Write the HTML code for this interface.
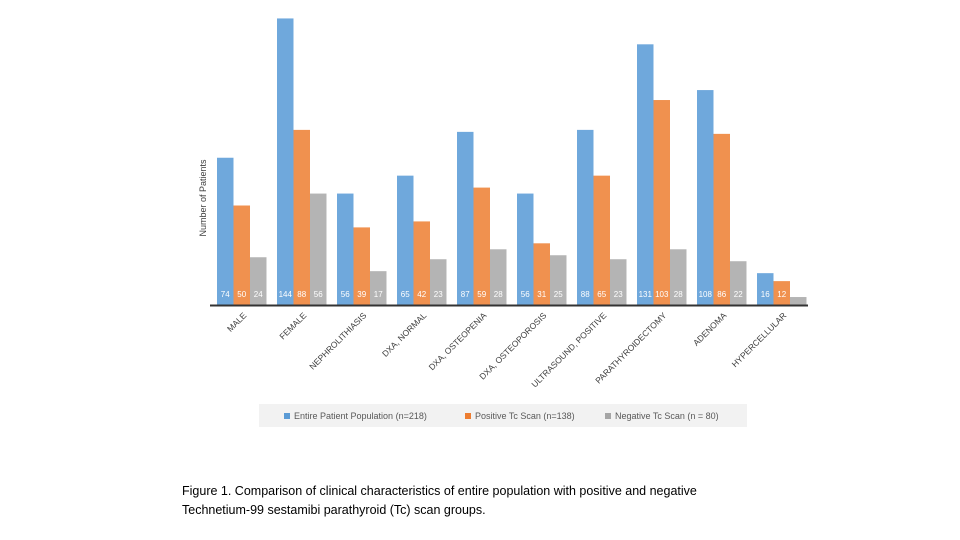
<!DOCTYPE html>
<html><head><meta charset="utf-8"><style>
body{margin:0;background:#fff;font-family:"Liberation Sans",sans-serif;}
</style></head><body>
<svg width="960" height="540" style="display:block">
<g id="plot"></g>
<text transform="translate(206,198) rotate(-90)" text-anchor="middle" font-size="9" fill="#404040">Number of Patients</text>
<rect x="259" y="404" width="488" height="23" fill="#f2f2f2"/>
<g><rect x="284" y="413" width="6" height="6" fill="#5b9bd5"/><text x="294" y="419" font-size="9" fill="#595959">Entire Patient Population (n=218)</text></g>
<g><rect x="465" y="413" width="6" height="6" fill="#ed7d31"/><text x="475" y="419" font-size="9" fill="#595959">Positive Tc Scan (n=138)</text></g>
<g><rect x="605" y="413" width="6" height="6" fill="#a5a5a5"/><text x="615" y="419" font-size="9" fill="#595959">Negative Tc Scan (n = 80)</text></g>
<text x="182" y="495" font-size="12.5" fill="#000">Figure 1. Comparison of clinical characteristics of entire population with positive and negative</text>
<text x="182" y="514" font-size="12.5" fill="#000">Technetium-99 sestamibi parathyroid (Tc) scan groups.</text>
</svg>
<script>
const categories=["MALE","FEMALE","NEPHROLITHIASIS","DXA, NORMAL","DXA, OSTEOPENIA","DXA, OSTEOPOROSIS","ULTRASOUND, POSITIVE","PARATHYROIDECTOMY","ADENOMA","HYPERCELLULAR"];
const entire=[74,144,56,65,87,56,88,131,108,16];
const positive=[50,88,39,42,59,31,65,103,86,12];
const negative=[24,56,17,23,28,25,23,28,22,4];
const showLabel=[true,true,true,true,true,true,true,true,true,false];
const NS="http://www.w3.org/2000/svg";
const g=document.getElementById('plot');
const base=305, k=1.99;
const y=v=>base-v*k;
const xg=i=>217+i*60;
const series=[{d:entire,c:"#6fa8dc",n:"entire"},{d:positive,c:"#f0914f",n:"positive"},{d:negative,c:"#b4b4b4",n:"negative"}];
function mk(t,a){const e=document.createElementNS(NS,t);for(const k in a)e.setAttribute(k,a[k]);g.appendChild(e);return e;}
categories.forEach((cat,i)=>{
  series.forEach((s,j)=>{
    const x=xg(i)+j*16.5;
    const r=mk('rect',{x:x,y:y(s.d[i]),width:16.5,height:s.d[i]*k,fill:s.c});
    
    
    if(showLabel[i]||j<2){
      const t=mk('text',{x:x+8.25,y:297,'text-anchor':'middle','font-size':'8',fill:'#fff'});
      t.textContent=s.d[i];
      
      
    }
  });
  const cx=xg(i)+30;
  const l=mk('text',{transform:`translate(${cx},316) rotate(-45)`,'text-anchor':'end','font-size':'8.5',fill:'#404040'});
  l.textContent=cat;
  
  
});
const ax=mk('line',{x1:210,y1:305.5,x2:808,y2:305.5,stroke:'#333','stroke-width':'2'});


</script>
</body></html>
